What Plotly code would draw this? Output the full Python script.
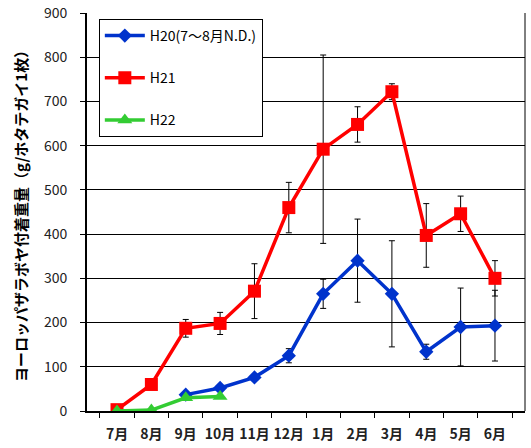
import plotly.graph_objects as go

months = ["7月", "8月", "9月", "10月", "11月", "12月", "1月", "2月", "3月", "4月", "5月", "6月"]

# H20: July–August not determined
h20 = [None, None, 37, 52, 76, 125, 265, 340, 265, 134, 190, 193]
h20_err = [None, None, 0, 0, 0, 16, 33, 94, 120, 17, 88, 80]

h21 = [3, 60, 187, 198, 271, 460, 592, 648, 722, 397, 446, 300]
h21_err = [0, 0, 20, 25, 62, 57, 213, 40, 18, 72, 40, 40]

h22 = [0, 2, 30, 33, None, None, None, None, None, None, None, None]

FONT = "Noto Sans CJK JP"
Y_TITLE = "ヨーロッパザラボヤ付着重量（g/ホタテガイ1枚）"

fig = go.Figure()

fig.add_trace(go.Scatter(
    x=months, y=h20, name="H20(7～8月N.D.)", mode="lines+markers",
    line=dict(color="#0033CC", width=3.5),
    marker=dict(symbol="diamond", size=11, color="#0033CC"),
    error_y=dict(type="data", array=h20_err, color="black", thickness=1, width=3),
    legendgroup="a",
))
fig.add_trace(go.Scatter(
    x=months, y=h21, name="H21", mode="lines+markers",
    line=dict(color="#FF0000", width=3.5),
    marker=dict(symbol="square", size=13, color="#FF0000"),
    error_y=dict(type="data", array=h21_err, color="black", thickness=1, width=3),
    legendgroup="b",
))
fig.add_trace(go.Scatter(
    x=months, y=h22, name="H22", mode="lines+markers",
    line=dict(color="#33CC33", width=3.5),
    marker=dict(symbol="triangle-up", size=13, color="#33CC33"),
    legendgroup="c",
))

fig.update_layout(
    width=531, height=448,
    margin=dict(l=87, r=6, t=13, b=37),
    paper_bgcolor="white", plot_bgcolor="white",
    font=dict(family=FONT, size=13, color="#222222"),
    showlegend=True,
    legend=dict(
        x=0.027, y=0.985, xanchor="left", yanchor="top",
        bgcolor="white", bordercolor="black", borderwidth=1,
        font=dict(family=FONT, size=14, color="black"),
        traceorder="grouped", tracegroupgap=21,
        itemwidth=40,
    ),
    shapes=[
        dict(type="line", xref="paper", yref="paper", x0=1, x1=1, y0=0, y1=1,
             line=dict(color="black", width=1)),
    ],
    annotations=[
        dict(text="<b>" + Y_TITLE + "</b>", xref="paper", yref="paper",
             x=-0.153, y=0.5, xanchor="center", yanchor="middle",
             textangle=-90, showarrow=False,
             font=dict(family=FONT, size=15, color="black")),
    ],
)

fig.update_xaxes(
    type="category", categoryorder="array", categoryarray=months,
    showline=True, linecolor="black", linewidth=2,
    ticks="outside", tickson="boundaries", ticklen=5, tickcolor="black",
    showgrid=False, tickangle=0, automargin=False, ticklabelstandoff=9,
    tickfont=dict(family=FONT, size=14, color="#222222", weight="bold"),
)
fig.update_yaxes(
    range=[0, 900], dtick=100, tick0=0,
    showline=True, linecolor="black", linewidth=2,
    ticks="outside", ticklen=5, tickcolor="black",
    showgrid=True, gridcolor="black", gridwidth=1,
    zeroline=False, automargin=False, ticklabelstandoff=10,
    tickfont=dict(family=FONT, size=14, color="#222222"),
)

fig.write_html("out.html")
